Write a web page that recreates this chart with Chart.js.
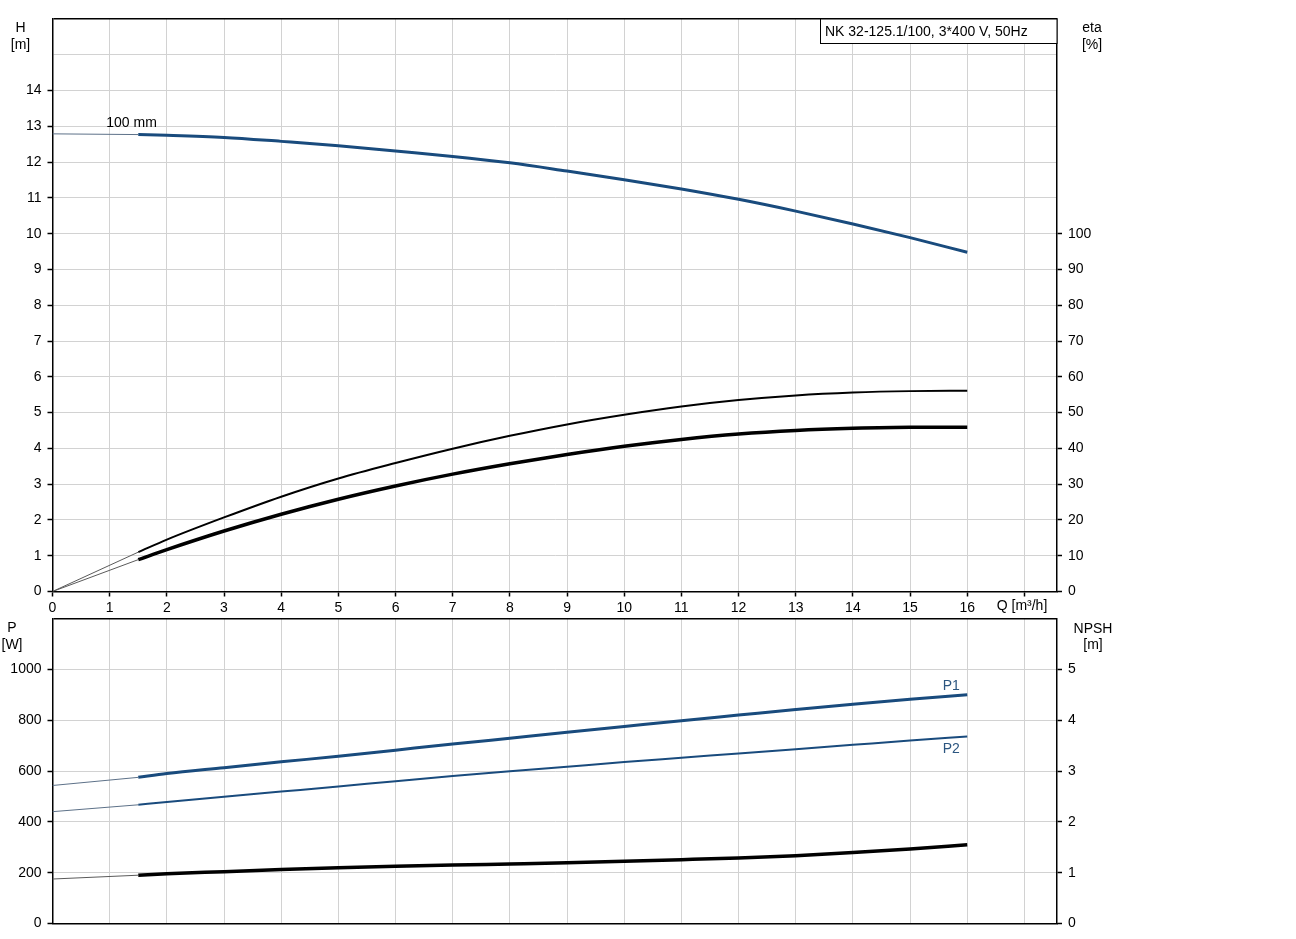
<!DOCTYPE html>
<html><head><meta charset="utf-8">
<script src="https://cdn.jsdelivr.net/npm/chart.js@4.4.1/dist/chart.umd.min.js"></script>
<style>
html,body{margin:0;padding:0;background:#fff;width:1296px;height:939px;overflow:hidden}
#c1{position:absolute;left:0;top:0}
#c2{position:absolute;left:0;top:616px}
</style></head><body>
<canvas id="c1" width="1296" height="616"></canvas>
<canvas id="c2" width="1296" height="323"></canvas>
<script>
// ---- data ----
const flow      = [1.5, 2, 3, 4, 5, 6, 7, 8, 9, 10, 11, 12, 13, 14, 15, 16];
const head      = [12.77, 12.75, 12.69, 12.58, 12.46, 12.31, 12.16, 11.98, 11.75, 11.51, 11.25, 10.96, 10.63, 10.27, 9.89, 9.48];
const etaUpper  = [11.0, 14.5, 20.7, 26.5, 31.6, 35.9, 39.9, 43.5, 46.7, 49.4, 51.7, 53.5, 54.8, 55.6, 56.0, 56.1];
const etaLower  = [8.9, 11.7, 16.9, 21.6, 25.8, 29.5, 32.8, 35.7, 38.3, 40.6, 42.5, 44.0, 45.0, 45.6, 45.9, 45.9];
const powerP1   = [575, 590, 613, 636, 658, 682, 706, 729, 752, 775, 798, 820, 842, 863, 882, 900];
const powerP2   = [467, 478, 499, 519, 539, 560, 580, 599, 617, 635, 652, 669, 686, 703, 720, 736];
const npsh      = [0.95, 0.98, 1.02, 1.06, 1.095, 1.125, 1.15, 1.172, 1.195, 1.223, 1.255, 1.29, 1.335, 1.395, 1.465, 1.55];

const flowExt     = [0, 1.5];
const headExt     = [12.79, 12.77];
const etaUpperExt = [0, 11.0];
const etaLowerExt = [0, 8.9];
const p1Ext       = [543, 575];
const p2Ext       = [440, 467];
const npshExt     = [0.875, 0.95];

// tick labels shown
const qLabels    = [0,1,2,3,4,5,6,7,8,9,10,11,12,13,14,15,16];
const hLabels    = [0,1,2,3,4,5,6,7,8,9,10,11,12,13,14];
const etaLabels  = [0,10,20,30,40,50,60,70,80,90,100];
const pLabels    = [0,200,400,600,800,1000];
const npshLabels = [0,1,2,3,4,5];

const titleText = 'NK 32-125.1/100, 3*400 V, 50Hz';
const curveText = '100 mm';

// ---- styling ----
const BLUE = '#194b7d';
const THIN_BLUE = '#5d7188';
const THIN_BLACK = '#5a5a5a';
const GRID = '#d2d2d2';
const FONT = "'Liberation Sans', Arial, sans-serif";
Chart.defaults.font.family = FONT;
Chart.defaults.font.size = 14;
Chart.defaults.color = '#000';

const xy = (xs, ys) => xs.map((x, i) => ({x: x, y: ys[i]}));
const line = (data, axis, color, width, smooth) => ({
  data: data, yAxisID: axis, borderColor: color, borderWidth: width,
  pointRadius: 0, fill: false, cubicInterpolationMode: smooth ? 'monotone' : 'default', tension: 0
});
const lab = (list) => (v) => list.includes(v) ? String(v) : '';
const noPad = s => { s.paddingTop = 0; s.paddingBottom = 0; s.paddingLeft = 0; s.paddingRight = 0; };

function xAxis(height, showLabels) {
  return {
    type: 'linear', position: 'bottom', min: 0, max: 17.57,
    afterFit: s => { s.height = height; noPad(s); },
    ticks: {stepSize: 1, includeBounds: false, autoSkip: false, maxRotation: 0, padding: 3,
            display: showLabels, callback: lab(qLabels)},
    grid: {color: c => (c.tick && c.tick.value === 0) ? 'rgba(0,0,0,0)' : GRID, lineWidth: 1,
           drawTicks: showLabels, tickLength: 5, tickColor: '#000', tickWidth: 1.5},
    border: {color: '#000', width: 1.5}
  };
}
function leftAxis(max, step, labels, width) {
  const top = labels[labels.length - 1];
  return {
    type: 'linear', position: 'left', min: 0, max: max,
    afterFit: s => { s.width = width; noPad(s); },
    ticks: {stepSize: step, includeBounds: false, autoSkip: false, padding: 6, callback: lab(labels)},
    grid: {color: c => (c.tick && c.tick.value === max) ? '#000' : (c.tick && c.tick.value === 0 ? 'rgba(0,0,0,0)' : GRID),
           lineWidth: c => (c.tick && c.tick.value === max) ? 1.5 : 1,
           tickLength: 5, tickWidth: 1.5,
           tickColor: c => (c.tick && c.tick.value > top) ? 'rgba(0,0,0,0)' : '#000'},
    border: {color: '#000', width: 1.5}
  };
}
function rightAxis(max, step, labels, width) {
  const top = labels[labels.length - 1];
  return {
    type: 'linear', position: 'right', min: 0, max: max,
    afterFit: s => { s.width = width; noPad(s); },
    ticks: {stepSize: step, includeBounds: false, autoSkip: false, padding: 6, callback: lab(labels)},
    grid: {drawOnChartArea: false, tickLength: 5, tickWidth: 1.5,
           tickColor: c => (c.tick && c.tick.value > top) ? 'rgba(0,0,0,0)' : '#000'},
    border: {color: '#000', width: 1.5}
  };
}

function text(ctx, s, x, y, align, color) {
  ctx.save();
  ctx.font = '14px ' + FONT;
  ctx.fillStyle = color || '#000';
  ctx.textAlign = align || 'center';
  ctx.textBaseline = 'alphabetic';
  ctx.fillText(s, x, y);
  ctx.restore();
}

const topLabels = {
  id: 'topLabels',
  afterDraw(chart) {
    const ctx = chart.ctx, a = chart.chartArea;
    const sx = chart.scales.x, sy = chart.scales.yH;
    text(ctx, 'H', 20.5, 32);
    text(ctx, '[m]', 20.5, 49);
    text(ctx, 'eta', 1092, 32);
    text(ctx, '[%]', 1092, 49);
    text(ctx, 'Q [m³/h]', 1022, 610);
    text(ctx, curveText, sx.getPixelForValue(0.94), sy.getPixelForValue(12.97), 'left');
    // title box
    ctx.save();
    const bx = 820.5, by = a.top, bw = a.right - 820.5, bh = 24.5;
    ctx.fillStyle = '#fff';
    ctx.fillRect(bx, by, bw, bh);
    ctx.strokeStyle = '#000';
    ctx.lineWidth = 1;
    ctx.strokeRect(bx, by, bw, bh);
    ctx.restore();
    text(ctx, titleText, 825, by + 17, 'left');
  }
};
const bottomLabels = {
  id: 'bottomLabels',
  afterDraw(chart) {
    const ctx = chart.ctx;
    const sx = chart.scales.x, sy = chart.scales.yP;
    text(ctx, 'P', 12, 16);
    text(ctx, '[W]', 12, 32.5);
    text(ctx, 'NPSH', 1093, 16.5);
    text(ctx, '[m]', 1093, 32.5);
    text(ctx, 'P1', sx.getPixelForValue(15.72), sy.getPixelForValue(918), 'center', '#2c5680');
    text(ctx, 'P2', sx.getPixelForValue(15.72), sy.getPixelForValue(670), 'center', '#2c5680');
  }
};

new Chart(document.getElementById('c1'), {
  type: 'line',
  data: {datasets: [
    line(xy(flowExt, headExt), 'yH', THIN_BLUE, 1, false),
    line(xy(flowExt, etaUpperExt), 'yEta', THIN_BLACK, 1, false),
    line(xy(flowExt, etaLowerExt), 'yEta', THIN_BLACK, 1, false),
    line(xy(flow, head), 'yH', BLUE, 3, true),
    line(xy(flow, etaUpper), 'yEta', '#000', 2, true),
    line(xy(flow, etaLower), 'yEta', '#000', 3.5, true)
  ]},
  options: {
    responsive: false, animation: false, maintainAspectRatio: false,
    layout: {padding: {top: 19, left: 0, right: 0, bottom: 0}},
    plugins: {legend: {display: false}, tooltip: {enabled: false}},
    scales: {
      x: xAxis(24.5, true),
      yH: leftAxis(16, 1, hLabels, 52.5),
      yEta: rightAxis(160, 10, etaLabels, 239)
    }
  },
  plugins: [topLabels]
});

new Chart(document.getElementById('c2'), {
  type: 'line',
  data: {datasets: [
    line(xy(flowExt, p1Ext), 'yP', THIN_BLUE, 1, false),
    line(xy(flowExt, p2Ext), 'yP', THIN_BLUE, 1, false),
    line(xy(flowExt, npshExt), 'yN', THIN_BLACK, 1, false),
    line(xy(flow, powerP1), 'yP', BLUE, 3, true),
    line(xy(flow, powerP2), 'yP', BLUE, 2, true),
    line(xy(flow, npsh), 'yN', '#000', 3.5, true)
  ]},
  options: {
    responsive: false, animation: false, maintainAspectRatio: false,
    layout: {padding: {top: 2.5, left: 0, right: 0, bottom: 0}},
    plugins: {legend: {display: false}, tooltip: {enabled: false}},
    scales: {
      x: xAxis(15.5, false),
      yP: leftAxis(1200, 200, pLabels, 52.5),
      yN: rightAxis(6, 1, npshLabels, 239)
    }
  },
  plugins: [bottomLabels]
});
</script>
</body></html>
